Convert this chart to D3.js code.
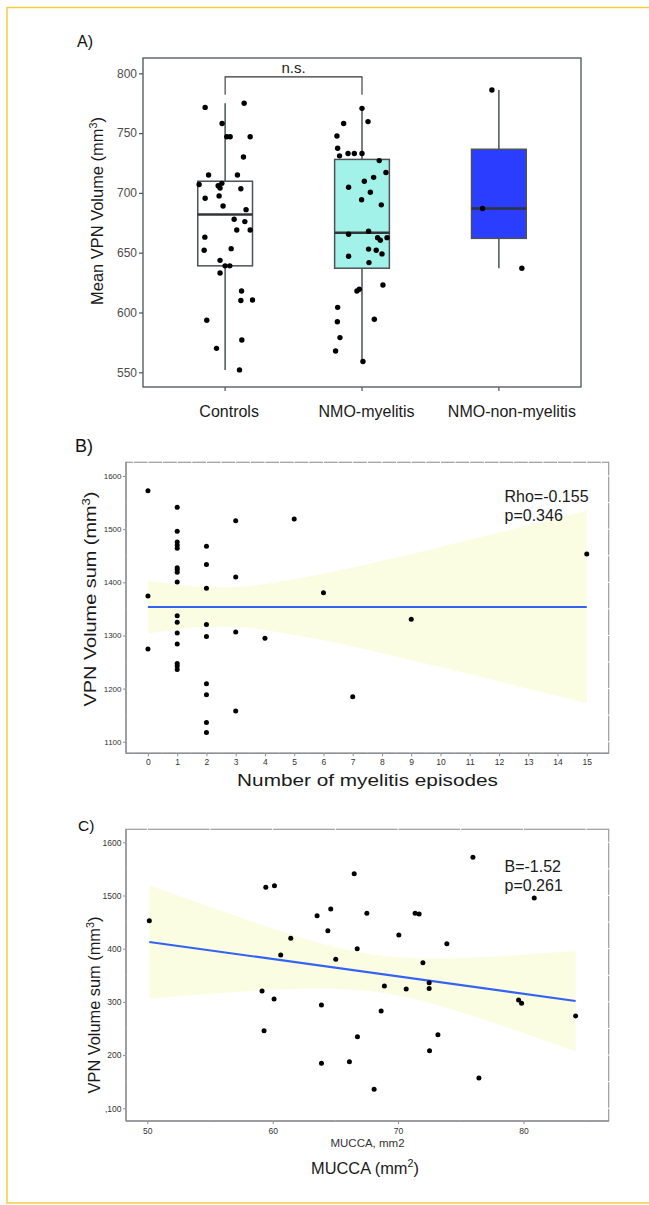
<!DOCTYPE html>
<html>
<head>
<meta charset="utf-8">
<script src="https://cdn.jsdelivr.net/npm/d3@7"></script>
<style>
  body { margin: 0; background: #fff; }
  svg { display: block; font-family: Arial, "Liberation Sans", Helvetica, sans-serif; }
</style>
</head>
<body>
<div id="chart"></div>
<script>
// ---- data ----
const groups = ["Controls", "NMO-myelitis", "NMO-non-myelitis"];

const controlsVol = [771.5, 775, 758, 747, 747, 747, 730, 715, 715, 707, 706, 704, 708, 695.5, 697.5, 703.5, 689, 686,
  678, 676, 669, 669, 663, 653.4, 652, 643.6, 639, 639, 633, 618, 610, 610.5, 593.5, 577, 570, 552];
// horizontal jitter, in category widths
const controlsJit = [-0.146, 0.139, -0.022, 0.012, 0.037, 0.183, 0.134, -0.121, 0.09, -0.19, -0.051, -0.037, -0.024, -0.146,
  -0.044, 0.115, -0.015, 0.153, 0.066, 0.144, 0.085, 0.183, -0.148, 0.044, -0.153, -0.037, 0, 0.034, -0.037, 0.12, 0.115,
  0.2, -0.134, 0.122, -0.063, 0.105];

const myelitisVol = [770.7, 759.6, 758, 747.6, 737.3, 731, 733, 733, 733, 727, 717, 713, 709.7, 704.7, 700.5, 694.3, 690,
  665.4, 668, 662.6, 660.4, 662.6, 653, 652, 649, 647, 641.7, 623, 618, 619.4, 604.3, 592.3, 594.3, 579, 567.8, 559];
const myelitisJit = [0, 0.044, -0.134, -0.183, -0.178, -0.164, -0.102, -0.056, 0, 0.126, 0.175, 0.085, 0.017, -0.098, 0.061,
  -0.003, 0.141, -0.098, 0.048, 0.114, 0.134, 0.183, 0.048, 0.104, 0.146, -0.098, 0.051, 0.153, -0.037, -0.02, -0.178,
  -0.18, 0.09, -0.161, -0.193, 0.007];

const nonMyelitisVol = [786, 687, 637];
const nonMyelitisJit = [-0.051, -0.119, 0.168];

const yTicksA = [550, 600, 650, 700, 750, 800];
const bracketA = [797, 782]; // n.s. bracket: top level, leg ends

// panel B
const episodes = [0, 0, 0,
  1, 1, 1, 1, 1, 1, 1, 1, 1, 1, 1, 1, 1, 1, 1, 1,
  2, 2, 2, 2, 2, 2, 2, 2, 2,
  3, 3, 3, 3,
  4, 5, 6, 7, 9, 15];
const volB = [1572.4, 1374, 1274.4,
  1541, 1496, 1475.8, 1469.5, 1463.9, 1427.5, 1423.7, 1418.7, 1400.5, 1337, 1324.6, 1304.5, 1283.8, 1247.4, 1242.4, 1236,
  1467.6, 1433.7, 1388.6, 1320.8, 1298.2, 1209.2, 1188.4, 1136.3, 1117.5,
  1515.9, 1409.9, 1306.4, 1157.7,
  1294.5, 1519, 1380.4, 1184.7, 1330.3, 1453.2];
const fitBX = [0, 15];
const fitBY = [1353.5, 1353.5];
const bandBX = [0, 1, 2, 3, 4, 6, 8, 10, 12, 15];
const bandBLo = [1303.5, 1311.5, 1316, 1315.7, 1310.4, 1291, 1266.6, 1240.4, 1213.4, 1172.5];
const bandBHi = [1403.5, 1395.5, 1391, 1391.3, 1396.6, 1416, 1440.4, 1466.6, 1493.6, 1534.5];
const xTicksB = [0, 1, 2, 3, 4, 5, 6, 7, 8, 9, 10, 11, 12, 13, 14, 15];
const yTicksB = [1100, 1200, 1300, 1400, 1500, 1600];
const yTickLabelsB = ["1100", "1200", "1300", "1400", "1500", "1600"];

// panel C
const mucca = [50.16, 59.45, 60.14, 66.5, 63.54, 64.63, 64.4, 61.44, 66.74, 60.64, 65.03, 59.15, 60.11, 63.89, 59.31,
  66.76, 63.89, 66.12, 75.97, 67.51, 71.36, 71.68, 80.86, 70.06, 73.89, 71.98, 68.91, 70.65, 72.48, 72.48, 79.61, 79.85,
  84.16, 68.65, 73.18, 72.51, 76.45, 68.09];
const volC = [1452.6, 1515.4, 1518.4, 1541, 1462, 1474.6, 1433.9, 1419.5, 1400, 1388, 1380, 1320.5, 1305.5, 1294.2, 1245.9,
  1234.6, 1184.6, 1187.6, 1571.8, 1466.5, 1466.5, 1465, 1495.3, 1425.8, 1409.4, 1373.7, 1329.9, 1324.2, 1336, 1325,
  1303.6, 1297.3, 1273.5, 1282.9, 1238.4, 1208.3, 1157, 1135.7];
const fitCX = [50.16, 84.16];
const fitCY = [1412.6, 1301.7];
const bandCX = [50.16, 54, 58, 62, 66, 70, 74, 78, 82, 84.16];
const bandCLo = [1306, 1313.4, 1320.2, 1324.7, 1323.9, 1311.9, 1287.8, 1257.6, 1225, 1206.8];
const bandCHi = [1519, 1486.6, 1453.8, 1423.1, 1397.7, 1383.7, 1381.6, 1385.6, 1392.2, 1396.2];
const xTicksC = [50, 60, 70, 80];
const yTicksC = [1100, 1200, 1300, 1400, 1500, 1600];
const yTickLabelsC = [",100", "200", "300", "400", "1500", "1600"];

// ---- drawing ----
const W = 649, H = 1205;
const svg = d3.select("#chart").append("svg").attr("width", W).attr("height", H);
svg.append("rect").attr("width", W).attr("height", H).attr("fill", "#fff");

// yellow frame round the figure
svg.append("path")
  .attr("d", "M649,7.5 H7 V1203 H649")
  .attr("fill", "none").attr("stroke", "#f6cb45").attr("stroke-width", 1.5);

// helpers
function supText(t, main, s, tail, fs) {
  t.append("tspan").text(main);
  t.append("tspan").attr("font-size", fs * 0.66).attr("dy", -fs * 0.38).text(s);
  t.append("tspan").attr("dy", fs * 0.38).text(tail);
}
function fitText(t, x, y, target, rot) {
  const w = t.node().getComputedTextLength();
  const k = target / w;
  t.attr("transform", "translate(" + x + "," + y + ")" + (rot ? " rotate(-90)" : "") + " scale(" + k + ",1)");
}

// ================= panel A =================
const a = { left: 143, right: 581, top: 58, bottom: 387 };
const xA = d3.scalePoint().domain(groups).range([a.left, a.right]).padding(0.6);
const yA = d3.scaleLinear().domain([537.7, 812.8]).range([a.bottom, a.top]);
const stepA = xA.step();
const boxW = 0.4 * stepA;
const boxFill = ["#ffffff", "#a2f2ea", "#2b3dff"];
const boxStroke = "#4b5357";

const groupVals = [controlsVol, myelitisVol, nonMyelitisVol];
const groupJit = [controlsJit, myelitisJit, nonMyelitisJit];

function boxStats(v) {
  const s = v.slice().sort(d3.ascending);
  const q1 = d3.quantile(s, 0.25), med = d3.quantile(s, 0.5), q3 = d3.quantile(s, 0.75);
  const iqr = q3 - q1;
  const lo = d3.min(s.filter(d => d >= q1 - 1.5 * iqr));
  const hi = d3.max(s.filter(d => d <= q3 + 1.5 * iqr));
  return { q1: q1, med: med, q3: q3, lo: lo, hi: hi };
}

const gA = svg.append("g");

svg.append("text").attr("x", 77).attr("y", 46.5).attr("font-size", 16).attr("fill", "#111").text("A)");

// y axis
const axA = gA.append("g")
  .attr("transform", "translate(" + a.left + ",0)")
  .call(d3.axisLeft(yA).tickValues(yTicksA).tickSize(4).tickPadding(2));
axA.select(".domain").remove();
axA.selectAll(".tick line").attr("stroke", boxStroke).attr("stroke-width", 1.2);
axA.selectAll(".tick text").attr("font-size", 12).attr("fill", "#4d4d4d").attr("font-family", null);

// x axis ticks + labels
const labelShiftA = [4, 4.5, 13];
groups.forEach(function(gname, i) {
  gA.append("line")
    .attr("x1", xA(gname)).attr("x2", xA(gname))
    .attr("y1", a.bottom).attr("y2", a.bottom + 4)
    .attr("stroke", boxStroke).attr("stroke-width", 1.2);
  gA.append("text")
    .attr("x", xA(gname) + labelShiftA[i]).attr("y", 416.5)
    .attr("text-anchor", "middle").attr("font-size", 16).attr("fill", "#1a1a1a")
    .text(gname);
});

// panel frame
gA.append("rect")
  .attr("x", a.left).attr("y", a.top)
  .attr("width", a.right - a.left).attr("height", a.bottom - a.top)
  .attr("fill", "none").attr("stroke", boxStroke).attr("stroke-width", 1.3);

// boxes
groups.forEach(function(gname, i) {
  const st = boxStats(groupVals[i]);
  const cx = xA(gname);
  gA.append("line")
    .attr("x1", cx).attr("x2", cx).attr("y1", yA(st.q3)).attr("y2", yA(st.hi))
    .attr("stroke", boxStroke).attr("stroke-width", 1.5);
  gA.append("line")
    .attr("x1", cx).attr("x2", cx).attr("y1", yA(st.q1)).attr("y2", yA(st.lo))
    .attr("stroke", boxStroke).attr("stroke-width", 1.5);
  gA.append("rect")
    .attr("x", cx - boxW / 2).attr("y", yA(st.q3))
    .attr("width", boxW).attr("height", yA(st.q1) - yA(st.q3))
    .attr("fill", boxFill[i]).attr("stroke", boxStroke).attr("stroke-width", 1.5);
  gA.append("line")
    .attr("x1", cx - boxW / 2).attr("x2", cx + boxW / 2)
    .attr("y1", yA(st.med)).attr("y2", yA(st.med))
    .attr("stroke", "#2f3538").attr("stroke-width", 2.6);
});

// jittered points
groups.forEach(function(gname, i) {
  gA.append("g").selectAll("circle")
    .data(groupVals[i])
    .enter().append("circle")
    .attr("cx", (d, j) => xA(gname) + groupJit[i][j] * stepA)
    .attr("cy", d => yA(d))
    .attr("r", 2.7)
    .attr("fill", "#000");
});

// n.s. bracket
const bx0 = xA(groups[0]), bx1 = xA(groups[1]);
gA.append("path")
  .attr("d", "M" + bx0 + "," + yA(bracketA[1]) + "V" + yA(bracketA[0]) + "H" + bx1 + "V" + yA(bracketA[1]))
  .attr("fill", "none").attr("stroke", "#333").attr("stroke-width", 1.1);
gA.append("text")
  .attr("x", (bx0 + bx1) / 2).attr("y", 73)
  .attr("text-anchor", "middle").attr("font-size", 15).attr("fill", "#222")
  .text("n.s.");

// y title
const tA = gA.append("text").attr("text-anchor", "middle").attr("font-size", 16).attr("fill", "#1a1a1a");
supText(tA, "Mean VPN Volume (mm", "3", ")", 16);
fitText(tA, 103, 211, 188, true);

// ================= scatter panels =================
function scatterPanel(cfg) {
  const p = cfg.box;
  const x = d3.scaleLinear().domain(cfg.xDomain).range([p.left, p.right]);
  const y = d3.scaleLinear().domain(cfg.yDomain).range([p.bottom, p.top]);
  const g = svg.append("g");
  const grey = "#8e9194";

  // panel border (top/right get broken by the white grid)
  g.append("rect")
    .attr("x", p.left).attr("y", p.top)
    .attr("width", p.right - p.left).attr("height", p.bottom - p.top)
    .attr("fill", "#fff").attr("stroke", "#9a9c9e").attr("stroke-width", 1.2);

  g.append("g").selectAll("line").data(cfg.xGrid).enter().append("line")
    .attr("x1", d => x(d)).attr("x2", d => x(d))
    .attr("y1", p.top - 2).attr("y2", p.bottom)
    .attr("stroke", "#fff").attr("stroke-width", 1);
  g.append("g").selectAll("line").data(cfg.yGrid).enter().append("line")
    .attr("y1", d => y(d)).attr("y2", d => y(d))
    .attr("x1", p.left).attr("x2", p.right + 2)
    .attr("stroke", "#fff").attr("stroke-width", 1);

  // confidence band
  const band = cfg.bandX.map((d, i) => ({ x: d, lo: cfg.bandLo[i], hi: cfg.bandHi[i] }));
  g.append("path")
    .datum(band)
    .attr("d", d3.area().x(d => x(d.x)).y0(d => y(d.lo)).y1(d => y(d.hi)).curve(d3.curveNatural))
    .attr("fill", "#fafde1");

  // fitted line
  g.append("path")
    .datum(cfg.fitX.map((d, i) => [d, cfg.fitY[i]]))
    .attr("d", d3.line().x(d => x(d[0])).y(d => y(d[1])))
    .attr("fill", "none").attr("stroke", "#3462f2").attr("stroke-width", 2.2);

  // points
  g.append("g").selectAll("circle")
    .data(cfg.xs)
    .enter().append("circle")
    .attr("cx", d => x(d))
    .attr("cy", (d, i) => y(cfg.ys[i]))
    .attr("r", 2.5)
    .attr("fill", "#000");

  // axes
  const ax = g.append("g").attr("transform", "translate(0," + p.bottom + ")")
    .call(d3.axisBottom(x).tickValues(cfg.xTicks).tickSize(3).tickPadding(cfg.xPad));
  ax.select(".domain").remove();
  ax.selectAll(".tick line").attr("stroke", grey);
  ax.selectAll(".tick text").attr("font-size", cfg.xTickFont).attr("fill", "#333").attr("font-family", null);

  const ay = g.append("g").attr("transform", "translate(" + p.left + ",0)")
    .call(d3.axisLeft(y).tickValues(cfg.yTicks).tickFormat((d, i) => cfg.yTickLabels[i]).tickSize(3).tickPadding(1.5));
  ay.select(".domain").remove();
  ay.selectAll(".tick line").attr("stroke", grey);
  ay.selectAll(".tick text").attr("font-size", cfg.yTickFont).attr("fill", "#333").attr("font-family", null);

  g.append("line").attr("x1", p.left).attr("x2", p.left).attr("y1", p.top).attr("y2", p.bottom)
    .attr("stroke", grey).attr("stroke-width", 1.4);
  g.append("line").attr("x1", p.left).attr("x2", p.right).attr("y1", p.bottom).attr("y2", p.bottom)
    .attr("stroke", grey).attr("stroke-width", 1.4);

  // stats annotation
  cfg.notes.forEach(function(txt, i) {
    g.append("text").attr("x", 504.5).attr("y", cfg.noteY + i * 19)
      .attr("font-size", 16).attr("fill", "#1a1a1a").text(txt);
  });

  // y title
  const ty = g.append("text").attr("text-anchor", "middle").attr("font-size", cfg.yTitleFont).attr("fill", "#1a1a1a");
  supText(ty, "VPN Volume sum (mm", "3", ")", cfg.yTitleFont);
  fitText(ty, cfg.yTitlePos[0], cfg.yTitlePos[1], cfg.yTitleLen, true);

  return g;
}

// panel B
const gB = scatterPanel({
  box: { left: 126, right: 608.7, top: 462.3, bottom: 753.3 },
  xDomain: [-0.75, 15.75], yDomain: [1078.2, 1625.8],
  xGrid: d3.range(-0.5, 15.75, 0.5), yGrid: [1100, 1150, 1200, 1250, 1300, 1350, 1400, 1450, 1500, 1550, 1600],
  bandX: bandBX, bandLo: bandBLo, bandHi: bandBHi,
  fitX: fitBX, fitY: fitBY,
  xs: episodes, ys: volB,
  xTicks: xTicksB, yTicks: yTicksB, yTickLabels: yTickLabelsB,
  xTickFont: 8.5, yTickFont: 8, xPad: 3,
  notes: ["Rho=-0.155", "p=0.346"], noteY: 502,
  yTitleFont: 17, yTitlePos: [96, 599], yTitleLen: 215
});
svg.append("text").attr("x", 75).attr("y", 451.5).attr("font-size", 18).attr("fill", "#111").text("B)");
const txB = gB.append("text").attr("text-anchor", "middle").attr("font-size", 17).attr("fill", "#1a1a1a")
  .text("Number of myelitis episodes");
fitText(txB, 367.5, 786, 261, false);

// panel C
const gC = scatterPanel({
  box: { left: 126, right: 608.7, top: 829.3, bottom: 1121 },
  xDomain: [48.3, 86.8], yDomain: [1076.1, 1624.4],
  xGrid: [50, 55, 60, 65, 70, 75, 80, 85], yGrid: [1100, 1150, 1200, 1250, 1300, 1350, 1400, 1450, 1500, 1550, 1600],
  bandX: bandCX, bandLo: bandCLo, bandHi: bandCHi,
  fitX: fitCX, fitY: fitCY,
  xs: mucca, ys: volC,
  xTicks: xTicksC, yTicks: yTicksC, yTickLabels: yTickLabelsC,
  xTickFont: 8.5, yTickFont: 8.5, xPad: 4,
  notes: ["B=-1.52", "p=0.261"], noteY: 871.5,
  yTitleFont: 16, yTitlePos: [100, 1005], yTitleLen: 177
});
svg.append("text").attr("x", 78).attr("y", 831).attr("font-size", 15.5).attr("fill", "#111").text("C)");
gC.append("text").attr("x", 367.5).attr("y", 1147).attr("text-anchor", "middle")
  .attr("font-size", 11.5).attr("fill", "#333").text("MUCCA, mm2");
const txC = gC.append("text").attr("text-anchor", "middle").attr("font-size", 16).attr("fill", "#1a1a1a");
supText(txC, "MUCCA (mm", "2", ")", 16);
fitText(txC, 365, 1173.5, 108, false);
</script>
</body>
</html>
